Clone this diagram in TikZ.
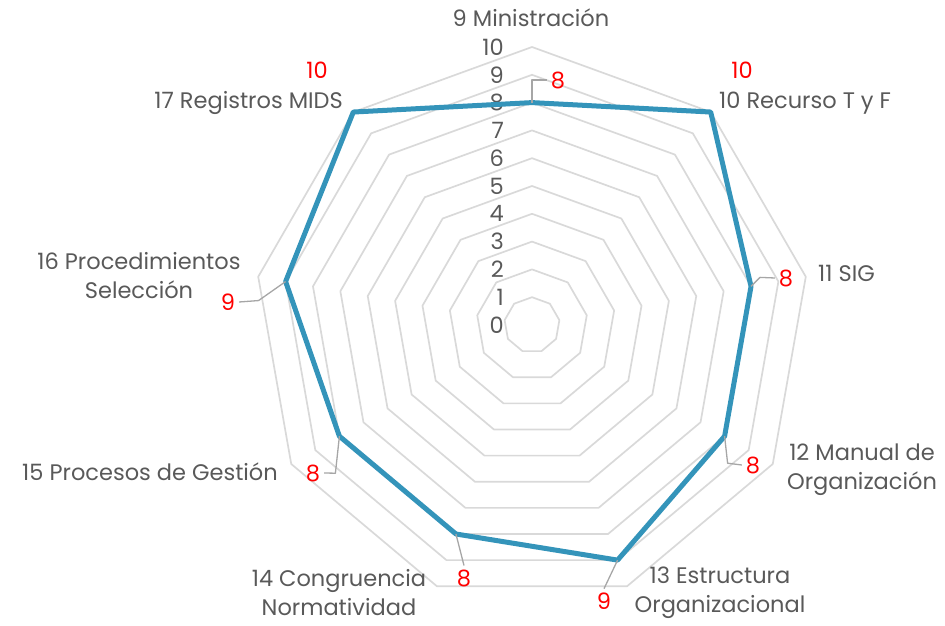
\documentclass[tikz,border=0pt]{standalone}
\usepackage{fontspec}
\setmainfont{Poppins}
\usepackage{xcolor}
\usepackage{tikz}
\usetikzlibrary{positioning}
\definecolor{gridgray}{HTML}{D9D9D9}
\definecolor{txtgray}{HTML}{595959}
\definecolor{leadgray}{HTML}{A6A6A6}
\definecolor{lineblue}{HTML}{3494BA}

\begin{document}
\begin{tikzpicture}[x=1pt, y=1pt, line join=round,
    cat/.style={text=txtgray, font=\fontsize{22.5}{29}\selectfont, align=center, inner sep=0pt},
    val/.style={text=red, font=\fontsize{22.5}{24}\selectfont, inner sep=0pt, outer sep=4pt},
    tick/.style={text=txtgray, font=\fontsize{22.5}{24}\selectfont, anchor=east, inner sep=0pt},
    leader/.style={draw=leadgray, line width=1.3pt}]
    \useasboundingbox (0,0) rectangle (945,625);

    % rings 1..10
    \begin{scope}[shift={(532,300)}]
      \foreach \r in {1,...,10}
        \draw[gridgray, line width=1.7pt] (90:27.8*\r)
          \foreach \k in {1,...,8} { -- (90-40*\k:27.8*\r) } -- cycle;
      \foreach \v [count=\k from 0] in {8,10,8,8,9,8,8,9,10}
        \coordinate (p\k) at (90-40*\k:27.8*\v);
    \end{scope}

    \foreach \r in {0,...,10}
      \node[tick] (t\r) at (504,300+27.8*\r) {\r};

    \draw[lineblue, line width=5pt] (p0) -- (p1) -- (p2) -- (p3) -- (p4)
      -- (p5) -- (p6) -- (p7) -- (p8) -- cycle;

    % categories
    \node[cat] (c9)  at (531,607) {9 Ministración};
    \node[cat, anchor=west] (c10) at (719,522) {10 Recurso T y F};
    \node[cat, anchor=west] (c11) at (818,352) {11 SIG};
    \node[cat] (c12) at (862,155) {12 Manual de\\Organización};
    \node[cat] (c13) at (720,32)  {13 Estructura\\Organizacional};
    \node[cat] (c14) at (339,32)  {14 Congruencia\\Normatividad};
    \node[cat, anchor=east] (c15) at (278,153) {15 Procesos de Gestión};
    \node[cat] (c16) at (139,349) {16 Procedimientos\\Selección};
    \node[cat, anchor=east] (c17) at (343,522) {17 Registros MIDS};

    % values
    \node[val] (v0) at (558,545) {8};
    \node[val] (v1) at (742,555) {10};
    \node[val] (v2) at (786,347) {8};
    \node[val] (v3) at (753,160) {8};
    \node[val] (v4) at (604,24)  {9};
    \node[val] (v5) at (464,47)  {8};
    \node[val] (v6) at (313,152) {8};
    \node[val] (v7) at (228,323) {9};
    \node[val] (v8) at (317,555) {10};

    \draw[leader] (p0) |- (v0.west);
    \draw[leader] (p2) -- ++(9,9) -- (v2.west);
    \draw[leader] (p3) -- ++(3,-27) -- (v3.west);
    \draw[leader] (p4) -- (v4.north);
    \draw[leader] (p5) -- (v5.north);
    \draw[leader] (p6) -- ++(-4,-37) -- (v6.east);
    \draw[leader] (p7) -- ++(-27,-19) -- (v7.east);
\end{tikzpicture}
\end{document}
